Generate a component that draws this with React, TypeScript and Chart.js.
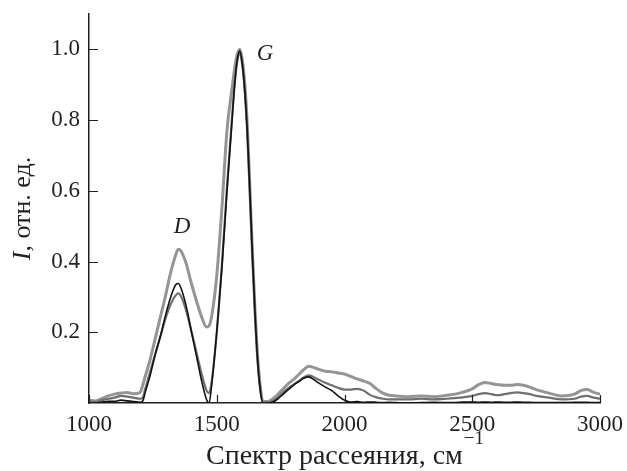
import React, { useEffect, useRef } from "react";
import { Chart, registerables } from "chart.js";

Chart.register(...registerables);

// Raman shift, cm^-1
const shifts = [
  1000, 1025, 1050, 1075, 1100, 1125, 1150, 1175, 1200, 1210,
  1220, 1240, 1260, 1280, 1300, 1320, 1340, 1350, 1360, 1380,
  1400, 1420, 1440, 1460, 1470, 1480, 1500, 1520, 1540, 1560,
  1570, 1580, 1590, 1600, 1610, 1620, 1630, 1640, 1650, 1660,
  1670, 1680, 1700, 1720, 1740, 1760, 1780, 1800, 1820, 1840,
  1860, 1880, 1900, 1925, 1950, 1975, 2000, 2025, 2050, 2075,
  2100, 2125, 2150, 2175, 2200, 2250, 2300, 2350, 2400, 2450,
  2500, 2525, 2550, 2575, 2600, 2625, 2650, 2675, 2700, 2725,
  2750, 2800, 2850, 2900, 2925, 2950, 2975, 3000,
];

const spectrumBlack = [
  0, 0, 0.003, 0.005, 0.005, 0.008, 0.006, 0.004, 0.002, 0.005,
  0.03, 0.08, 0.14, 0.19, 0.25, 0.3, 0.335, 0.338, 0.325, 0.275,
  0.205, 0.135, 0.065, 0.01, 0.0, 0.05, 0.2, 0.38, 0.6, 0.8,
  0.9, 0.97, 0.995, 0.96, 0.88, 0.76, 0.59, 0.41, 0.25, 0.12,
  0.04, 0.0, 0.0, 0.003, 0.012, 0.025, 0.038, 0.05, 0.06, 0.07,
  0.074, 0.066, 0.056, 0.045, 0.035, 0.02, 0.008, 0.003, 0.004, 0.002,
  0.003, 0.002, 0.001, 0.002, 0.001, 0, 0.001, 0.002, 0.001, 0.002,
  0.003, 0.002, 0.003, 0.002, 0.003, 0.002, 0.002, 0.003, 0.002, 0.002,
  0.001, 0.001, 0.001, 0.002, 0.002, 0.002, 0.001, 0.001,
];

const spectrumMid = [
  0.004, 0.003, 0.008, 0.012, 0.015, 0.02, 0.018, 0.015, 0.012, 0.015,
  0.04, 0.09, 0.14, 0.19, 0.24, 0.28, 0.305, 0.31, 0.302, 0.262,
  0.205, 0.145, 0.085, 0.035, 0.028, 0.06, 0.2, 0.39, 0.61, 0.81,
  0.9, 0.965, 0.99, 0.955, 0.88, 0.76, 0.59, 0.41, 0.25, 0.12,
  0.04, 0.002, 0.002, 0.006, 0.016, 0.03, 0.042, 0.052, 0.062, 0.072,
  0.078, 0.073, 0.066, 0.057, 0.05, 0.043, 0.038, 0.038, 0.04, 0.035,
  0.023, 0.016, 0.012, 0.01, 0.01, 0.01, 0.012, 0.01, 0.012, 0.015,
  0.02, 0.025, 0.028, 0.025, 0.022, 0.025, 0.028, 0.03, 0.028, 0.025,
  0.02, 0.015, 0.01, 0.012, 0.018, 0.02, 0.015, 0.012,
];

const spectrumLight = [
  0.008, 0.006, 0.012, 0.02, 0.025, 0.028, 0.03, 0.026, 0.03, 0.05,
  0.075, 0.125, 0.185, 0.245, 0.305, 0.37, 0.42, 0.435, 0.43, 0.395,
  0.34, 0.29, 0.245, 0.215, 0.218, 0.245, 0.36, 0.55, 0.77, 0.89,
  0.945, 0.985, 1.0, 0.97, 0.9, 0.78, 0.6, 0.42, 0.26, 0.13,
  0.05, 0.005, 0.004, 0.012, 0.025, 0.04, 0.055, 0.066, 0.08, 0.094,
  0.104, 0.1, 0.095, 0.09, 0.088, 0.085, 0.082, 0.075, 0.068, 0.062,
  0.055, 0.04, 0.028, 0.022, 0.02, 0.018, 0.02, 0.018, 0.022, 0.028,
  0.04, 0.052, 0.058, 0.055, 0.052, 0.05, 0.05, 0.052, 0.05, 0.045,
  0.038, 0.028, 0.02, 0.025, 0.035, 0.038, 0.03, 0.025,
];

const xTickValues = [1000, 1500, 2000, 2500, 3000];
const yTickValues = [0.2, 0.4, 0.6, 0.8, 1.0];

const peakLabels = [
  { text: "D", x: 1364, y: 0.48 },
  { text: "G", x: 1689, y: 0.969 },
];

const xTitle = "Спектр рассеяния, см";
const xTitleSup = "\u22121";
const yTitleItalic = "I";
const yTitleRest = ", отн. ед.";

const SERIF = "'Liberation Serif', 'Times New Roman', serif";
const INK = "#231f20";

const decorPlugin = {
  id: "decor",
  afterDraw(chart: any) {
    const ctx = chart.ctx as CanvasRenderingContext2D;
    const { left, right, top, bottom } = chart.chartArea;
    const xS = chart.scales.x;
    const yS = chart.scales.y;
    ctx.save();
    // inward tick marks
    ctx.strokeStyle = INK;
    ctx.lineWidth = 1.2;
    ctx.beginPath();
    for (const v of xTickValues) {
      const px = Math.round(xS.getPixelForValue(v)) + 0.5;
      ctx.moveTo(px, bottom);
      ctx.lineTo(px, bottom - 8);
    }
    for (const v of yTickValues) {
      const py = Math.round(yS.getPixelForValue(v)) + 0.5;
      ctx.moveTo(left, py);
      ctx.lineTo(left + 9, py);
    }
    ctx.stroke();

    ctx.fillStyle = INK;
    // peak labels
    ctx.font = `italic 23px ${SERIF}`;
    ctx.textAlign = "center";
    ctx.textBaseline = "alphabetic";
    for (const l of peakLabels) {
      ctx.fillText(l.text, xS.getPixelForValue(l.x), yS.getPixelForValue(l.y));
    }

    // x title
    const cx = (left + right) / 2;
    ctx.font = `28px ${SERIF}`;
    const w1 = ctx.measureText(xTitle).width;
    ctx.font = `19px ${SERIF}`;
    const w2 = ctx.measureText(xTitleSup).width;
    const startX = cx - (w1 + w2) / 2;
    ctx.textAlign = "left";
    ctx.font = `28px ${SERIF}`;
    ctx.fillText(xTitle, startX, 464);
    ctx.font = `19px ${SERIF}`;
    ctx.fillText(xTitleSup, startX + w1 + 1, 444);

    // y title (rotated)
    const cy = (top + bottom) / 2;
    ctx.translate(30, cy);
    ctx.rotate(-Math.PI / 2);
    ctx.font = `italic 26px ${SERIF}`;
    const wi = ctx.measureText(yTitleItalic).width;
    ctx.font = `26px ${SERIF}`;
    const wr = ctx.measureText(yTitleRest).width;
    const sx = -(wi + wr) / 2;
    ctx.font = `italic 26px ${SERIF}`;
    ctx.fillText(yTitleItalic, sx, 0);
    ctx.font = `26px ${SERIF}`;
    ctx.fillText(yTitleRest, sx + wi, 0);
    ctx.restore();
  },
};

export default function App() {
  const ref = useRef<HTMLCanvasElement | null>(null);

  useEffect(() => {
    if (!ref.current) return;
    const mk = (ys: number[]) => shifts.map((x, i) => ({ x, y: ys[i] }));
    const chart = new Chart(ref.current, {
      type: "line",
      data: {
        datasets: [
          {
            label: "black",
            data: mk(spectrumBlack),
            borderColor: "#111111",
            borderWidth: 1.6,
            pointRadius: 0,
            cubicInterpolationMode: "monotone",
          },
          {
            label: "mid",
            data: mk(spectrumMid),
            borderColor: "#6f6f6f",
            borderWidth: 2.2,
            pointRadius: 0,
            cubicInterpolationMode: "monotone",
          },
          {
            label: "light",
            data: mk(spectrumLight),
            borderColor: "#959595",
            borderWidth: 3,
            pointRadius: 0,
            cubicInterpolationMode: "monotone",
          },
        ],
      },
      options: {
        responsive: false,
        animation: false,
        devicePixelRatio: 1,
        layout: { padding: { left: 0, top: 14, right: 27, bottom: 0 } },
        plugins: {
          legend: { display: false },
          tooltip: { enabled: false },
          title: { display: false },
        },
        scales: {
          x: {
            type: "linear",
            min: 1000,
            max: 3000,
            afterBuildTicks: (s: any) => {
              s.ticks = xTickValues.map((value) => ({ value }));
            },
            afterFit: (s: any) => {
              s.height = 68;
              s.paddingLeft = 0;
              s.paddingRight = 0;
            },
            grid: { display: true, drawOnChartArea: false, drawTicks: false },
            border: { display: true, color: INK, width: 1.5 },
            ticks: {
              padding: 8,
              color: INK,
              font: { family: SERIF, size: 23 },
              maxRotation: 0,
              callback: (v: any) => String(v),
            },
          },
          y: {
            type: "linear",
            min: 0,
            max: 1.1,
            afterBuildTicks: (s: any) => {
              s.ticks = yTickValues.map((value) => ({ value }));
            },
            afterFit: (s: any) => {
              s.width = 89;
              s.paddingTop = 0;
              s.paddingBottom = 0;
            },
            grid: { display: true, drawOnChartArea: false, drawTicks: false },
            border: { display: true, color: INK, width: 1.5 },
            ticks: {
              padding: 9,
              color: INK,
              font: { family: SERIF, size: 23 },
              callback: (v: any) => Number(v).toFixed(1),
            },
          },
        },
      },
      plugins: [decorPlugin],
    });
    return () => chart.destroy();
  }, []);

  return (
    <div style={{ position: "fixed", left: 0, top: 0, width: 627, height: 471, background: "#fff" }}>
      <canvas ref={ref} width={627} height={471} style={{ display: "block" }} />
    </div>
  );
}
